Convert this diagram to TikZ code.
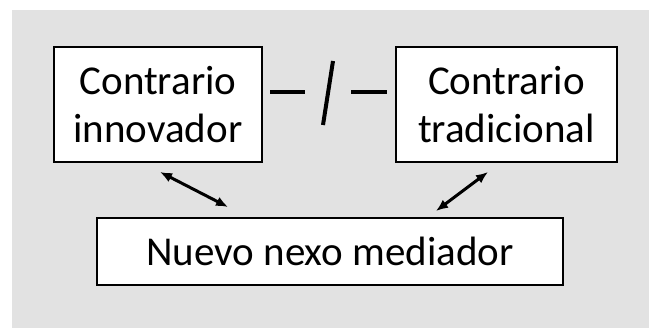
\documentclass[tikz,border=0pt]{standalone}
\usepackage{fontspec}
\usetikzlibrary{arrows.meta}
\setmainfont{Carlito}
\definecolor{fondo}{RGB}{226,226,226}
\begin{document}
\begin{tikzpicture}[x=1pt,y=-1pt,
  caja/.style={draw=black, fill=white, line width=1.8pt, inner sep=0pt, align=center, font=\fontsize{41}{48}\selectfont},
  flecha/.style={{Latex[length=12pt,width=10pt]}-{Latex[length=12pt,width=10pt]}, line width=3pt},
  raya/.style={line width=4pt}]
\useasboundingbox (0,0) rectangle (649,328);
\fill[fondo] (12,10) rectangle (649,328); % fondo gris
\node[caja, minimum width=208pt, minimum height=115pt] (innovador) at (158,104.5) {Contrario\\innovador};
\node[caja, minimum width=221pt, minimum height=115pt] (tradicional) at (506.5,104.5) {Contrario\\tradicional};
\node[caja, minimum width=466pt, minimum height=67pt] (nexo) at (330,251.5) {Nuevo nexo mediador};
% rayas entre los contrarios
\draw[raya] (270,92) -- (305,92);
\draw[raya] (333,61) -- (323,125);
\draw[raya] (351,92) -- (387,92);
% flechas hacia el nexo
\coordinate (ini1) at (160,172);
\coordinate (fin1) at (228,207);
\coordinate (ini2) at (488,172);
\coordinate (fin2) at (436,211);
\draw[flecha] (ini1) -- (fin1);
\draw[flecha] (ini2) -- (fin2);
\end{tikzpicture}
\end{document}
